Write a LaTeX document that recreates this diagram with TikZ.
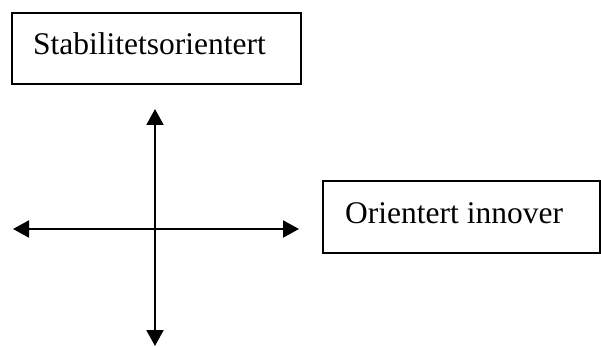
\documentclass[tikz,border=0pt]{standalone}
\usepackage{fontspec}
\setmainfont{Liberation Serif}
\usetikzlibrary{arrows.meta}
\begin{document}
\begin{tikzpicture}[x=1pt,y=-1pt,
  box/.style={draw=black, line width=2pt, rectangle, inner sep=0pt},
  lbl/.style={anchor=base west, inner sep=0pt, font=\fontsize{31.5}{38}\selectfont},
  axis/.style={line width=2pt, {Triangle[length=16pt,width=17pt]}-{Triangle[length=16pt,width=17pt]}}]
\useasboundingbox (0,0) rectangle (601,347);
\node[box, minimum width=289pt, minimum height=71pt] (b1) at (156.5,48.5) {};
\node[lbl] (t1) at (33,55) {Stabilitetsorientert};
\node[box, minimum width=277pt, minimum height=72pt] (b2) at (461.5,217) {};
\node[lbl] (t2) at (345,223) {Orientert innover};
\coordinate (top) at (155,109);
\coordinate (bot) at (155,346);
\coordinate (lft) at (13,229);
\coordinate (rgt) at (299,229);
\draw[axis] (top) -- (bot);
\draw[axis] (lft) -- (rgt);
\end{tikzpicture}
\end{document}
